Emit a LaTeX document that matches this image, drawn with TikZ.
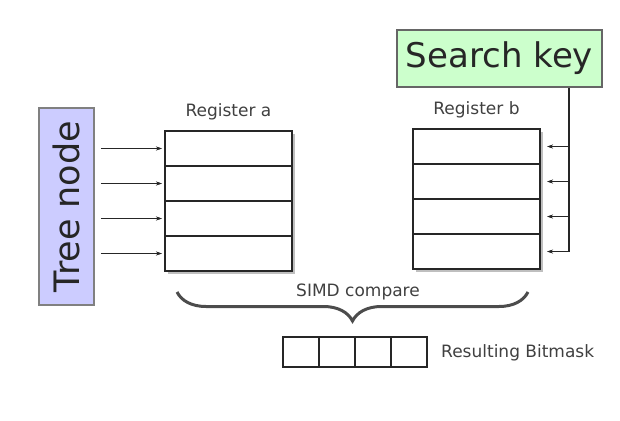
\documentclass[tikz,border=0pt]{standalone}
\usepackage{fontspec}
\setmainfont{DejaVu Sans}
\usetikzlibrary{positioning, decorations.pathreplacing, arrows.meta, backgrounds}
\definecolor{nodeblue}{RGB}{204,204,255}
\definecolor{keygreen}{RGB}{204,255,204}
\tikzset{
  >={Stealth[length=6pt,width=4pt]}, % small arrow heads
  label text/.style={text=black!75, font=\fontsize{17}{20}\selectfont, inner sep=0pt},
  cell/.style={draw=black!85, line width=2.8pt, fill=white, minimum width=127pt,
    minimum height=35pt, inner sep=0pt, outer sep=0pt},
  bit/.style={draw=black!85, line width=2.4pt, fill=white, minimum width=36pt,
    minimum height=30pt, inner sep=0pt, outer sep=0pt},
  shade box/.style={fill=black!25},
}

\begin{document}
\begin{tikzpicture}[x=1pt, y=-1pt]
    \useasboundingbox (0,0) rectangle (620,420);
    % Tree node and search key
    \node[draw=black!50, line width=1.5pt, fill=nodeblue, rotate=90,
      minimum width=197pt, minimum height=55pt, inner sep=0pt,
      font=\fontsize{35}{40}\selectfont, text=black!85] (tree) at (66.5,206.5) {Tree node};
    \node[draw=black!60, line width=1.5pt, fill=keygreen,
      minimum width=205pt, minimum height=57pt, inner sep=0pt,
      font=\fontsize{34}{40}\selectfont, text=black!85] (key) at (499.5,58.5) {Search key};
    % Registers
    \node[cell] (a1) at (228.5,148.5) {};
    \node[cell] (b1) at (476.5,146.5) {};
    \foreach \i [remember=\i as \j (initially 1)] in {2,3,4} {
      \node[cell, below=0pt of a\j] (a\i) {};
      \node[cell, below=0pt of b\j] (b\i) {};
    }
    \begin{scope}[on background layer]
      \fill[shade box] ([shift={(3pt,-3pt)}]a1.north west) rectangle ([shift={(3pt,-3pt)}]a4.south east);
      \fill[shade box] ([shift={(3pt,-3pt)}]b1.north west) rectangle ([shift={(3pt,-3pt)}]b4.south east);
    \end{scope}
    \node[label text, above=11pt of a1] (rega) {Register a};
    \node[label text, above=11pt of b1] (regb) {Register b};
    % Loads
    \coordinate (spine) at (569,87);
    \draw[line width=1.3pt, black!85] (key.south -| spine) -- (spine |- b4.east);
    \foreach \i in {1,...,4} {
      \draw[->, black!85] ([xshift=6pt]tree.south |- a\i.west) -- ([xshift=-3pt]a\i.west);
      \draw[->, black!85] (spine |- b\i.east) -- ([xshift=7pt]b\i.east);
    }
    % Compare
    \draw[decorate, decoration={brace, mirror, amplitude=29pt}, line width=3pt, black!70]
      (177,292) -- (528,292);
    \node[label text] (simd) at (358,292) {SIMD compare};
    % Bitmask
    \node[bit] (m1) at (301,352) {};
    \foreach \i [remember=\i as \j (initially 1)] in {2,3,4}
      \node[bit, right=0pt of m\j] (m\i) {};
    \node[label text, anchor=west] (result) at (441,353) {Resulting Bitmask};
\end{tikzpicture}
\end{document}
